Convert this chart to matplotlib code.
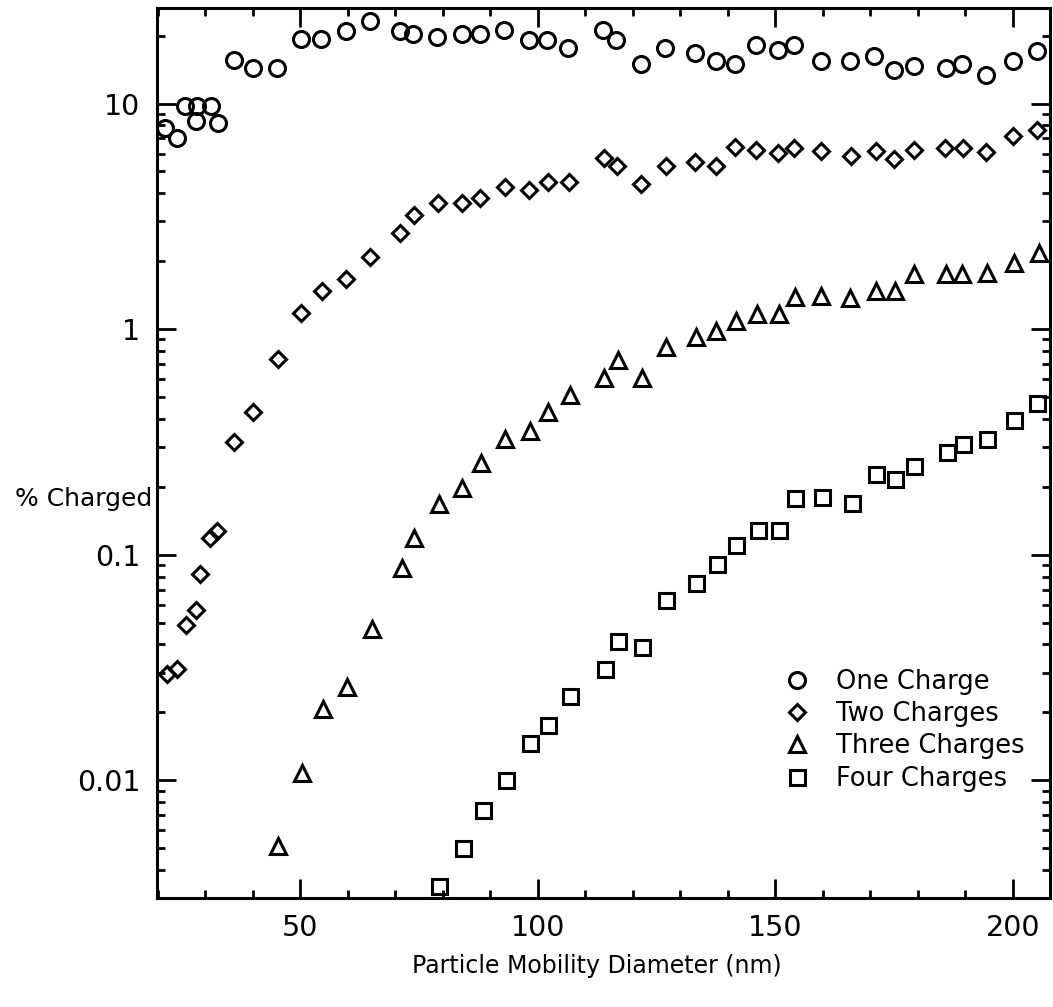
import matplotlib
matplotlib.use('Agg')
import matplotlib.pyplot as plt
from matplotlib.ticker import MultipleLocator, LogLocator, NullFormatter

plt.rcParams['font.family'] = ['DejaVu Sans']

# (diameter in nm, % charged)
one_x = [21.6, 24.0, 25.7, 28.1, 28.2, 31.1, 32.6, 36.1, 40.1, 45.0, 50.1, 54.3, 59.6, 64.7,
         71.0, 73.8, 78.7, 84.0, 87.8, 92.9, 98.1, 101.9, 106.4, 113.8, 116.5, 121.7, 126.7,
         133.0, 137.6, 141.5, 146.0, 150.5, 154.0, 159.6, 165.8, 170.8, 174.9, 179.1, 186.0,
         189.3, 194.4, 200.0, 205.1]
one_y = [7.8, 7.0, 9.8, 8.4, 9.8, 9.8, 8.2, 15.6, 14.3, 14.3, 19.4, 19.4, 21.0, 23.3,
         21.0, 20.3, 19.7, 20.4, 20.4, 21.1, 19.2, 19.2, 17.7, 21.1, 19.1, 15.0, 17.6,
         16.7, 15.5, 15.0, 18.2, 17.2, 18.2, 15.4, 15.4, 16.2, 14.1, 14.6, 14.4,
         14.9, 13.4, 15.4, 17.1]

two_x = [22.0, 24.1, 26.0, 28.1, 28.9, 30.9, 32.4, 36.0, 40.0, 45.2, 50.2, 54.6, 59.6, 64.7,
         70.9, 73.9, 78.9, 84.0, 87.9, 93.0, 98.1, 102.1, 106.6, 113.9, 116.7, 121.7, 126.9,
         133.0, 137.6, 141.6, 146.0, 150.6, 154.0, 159.6, 165.9, 171.1, 175.0, 179.1, 185.8,
         189.5, 194.4, 200.0, 205.1]
two_y = [0.0295, 0.031, 0.049, 0.057, 0.082, 0.119, 0.128, 0.317, 0.43, 0.74, 1.18, 1.47, 1.67,
         2.09, 2.66, 3.21, 3.62, 3.62, 3.82, 4.27, 4.13, 4.50, 4.51, 5.75, 5.28, 4.38, 5.30,
         5.48, 5.30, 6.42, 6.24, 6.01, 6.37, 6.17, 5.87, 6.19, 5.69, 6.20, 6.36,
         6.37, 6.09, 7.15, 7.67]

three_x = [45.4, 50.4, 54.8, 59.9, 65.0, 71.3, 74.0, 79.1, 84.1, 88.1, 93.1, 98.3, 102.2, 106.7,
           114.0, 116.8, 121.9, 127.0, 133.2, 137.5, 141.7, 146.1, 150.7, 154.1, 159.7, 165.8,
           171.2, 175.1, 179.3, 185.9, 189.3, 194.5, 200.2, 205.5]
three_y = [0.0051, 0.0108, 0.0208, 0.026, 0.047, 0.087, 0.118, 0.167, 0.197, 0.255, 0.327, 0.355,
           0.43, 0.51, 0.61, 0.73, 0.61, 0.83, 0.92, 0.98, 1.09, 1.17, 1.17, 1.39, 1.40, 1.38,
           1.47, 1.47, 1.76, 1.76, 1.76, 1.77, 1.96, 2.18]

four_x = [79.2, 84.2, 88.4, 93.2, 98.3, 102.2, 106.7, 114.1, 116.8, 122.0, 126.9, 133.3, 137.7,
          141.7, 146.3, 150.7, 154.1, 159.9, 166.1, 171.1, 175.1, 179.3, 186.1, 189.6, 194.5,
          200.3, 205.2]
four_y = [0.0034, 0.0050, 0.0074, 0.0100, 0.0146, 0.0176, 0.0237, 0.031, 0.0415, 0.0388, 0.063,
          0.075, 0.091, 0.110, 0.129, 0.129, 0.179, 0.180, 0.169, 0.229, 0.216, 0.248, 0.285,
          0.308, 0.325, 0.395, 0.47]

x_ticks = [50, 100, 150, 200]
y_ticks = [0.01, 0.1, 1, 10]
y_ticklabels = ['0.01', '0.1', '1', '10']

fig = plt.figure(figsize=(10.53, 10.07), dpi=100)
ax = fig.add_axes([0.149, 0.108, 0.848, 0.884])

mk = dict(linestyle='none', mfc='none', mec='black', mew=2.2)
ax.plot(one_x, one_y, marker='o', ms=11.5, label='One Charge', **mk)
ax.plot(two_x, two_y, marker='D', ms=8.2, label='Two Charges', **mk)
ax.plot(three_x, three_y, marker='^', ms=11.5, label='Three Charges', **mk)
ax.plot(four_x, four_y, marker='s', ms=10.8, label='Four Charges', **mk)

ax.set_yscale('log')
ax.set_xlim(19.8, 207.8)
ax.set_ylim(0.0030, 26.5)

ax.set_xticks(x_ticks)
ax.set_xticklabels([str(v) for v in x_ticks])
ax.xaxis.set_minor_locator(MultipleLocator(10))
ax.set_yticks(y_ticks)
ax.set_yticklabels(y_ticklabels)
ax.yaxis.set_minor_locator(LogLocator(base=10, subs=[2, 3, 4, 5, 6, 7, 8, 9]))
ax.yaxis.set_minor_formatter(NullFormatter())

ax.tick_params(which='both', direction='in', top=True, right=True, width=2.0, labelsize=20.5)
ax.tick_params(which='major', length=14)
ax.tick_params(which='minor', length=6)
ax.tick_params(axis='y', pad=12)
ax.tick_params(axis='x', pad=11)
for s in ax.spines.values():
    s.set_linewidth(2.2)

ax.set_xlabel('Particle Mobility Diameter (nm)', fontsize=17)
ax.xaxis.set_label_coords(0.493, -0.063)
ax.set_ylabel('% Charged', fontsize=18, rotation=0, ha='left', va='center')
ax.yaxis.set_label_coords(-0.159, 0.449)

ax.legend(loc='upper left', bbox_to_anchor=(0.7455, 0.3355), bbox_transform=fig.transFigure,
          frameon=False, fontsize=18.5, numpoints=1, handlelength=0.95, handletextpad=1.05,
          borderpad=0, borderaxespad=0, labelspacing=0.24)

fig.savefig('out.png', dpi=100)
